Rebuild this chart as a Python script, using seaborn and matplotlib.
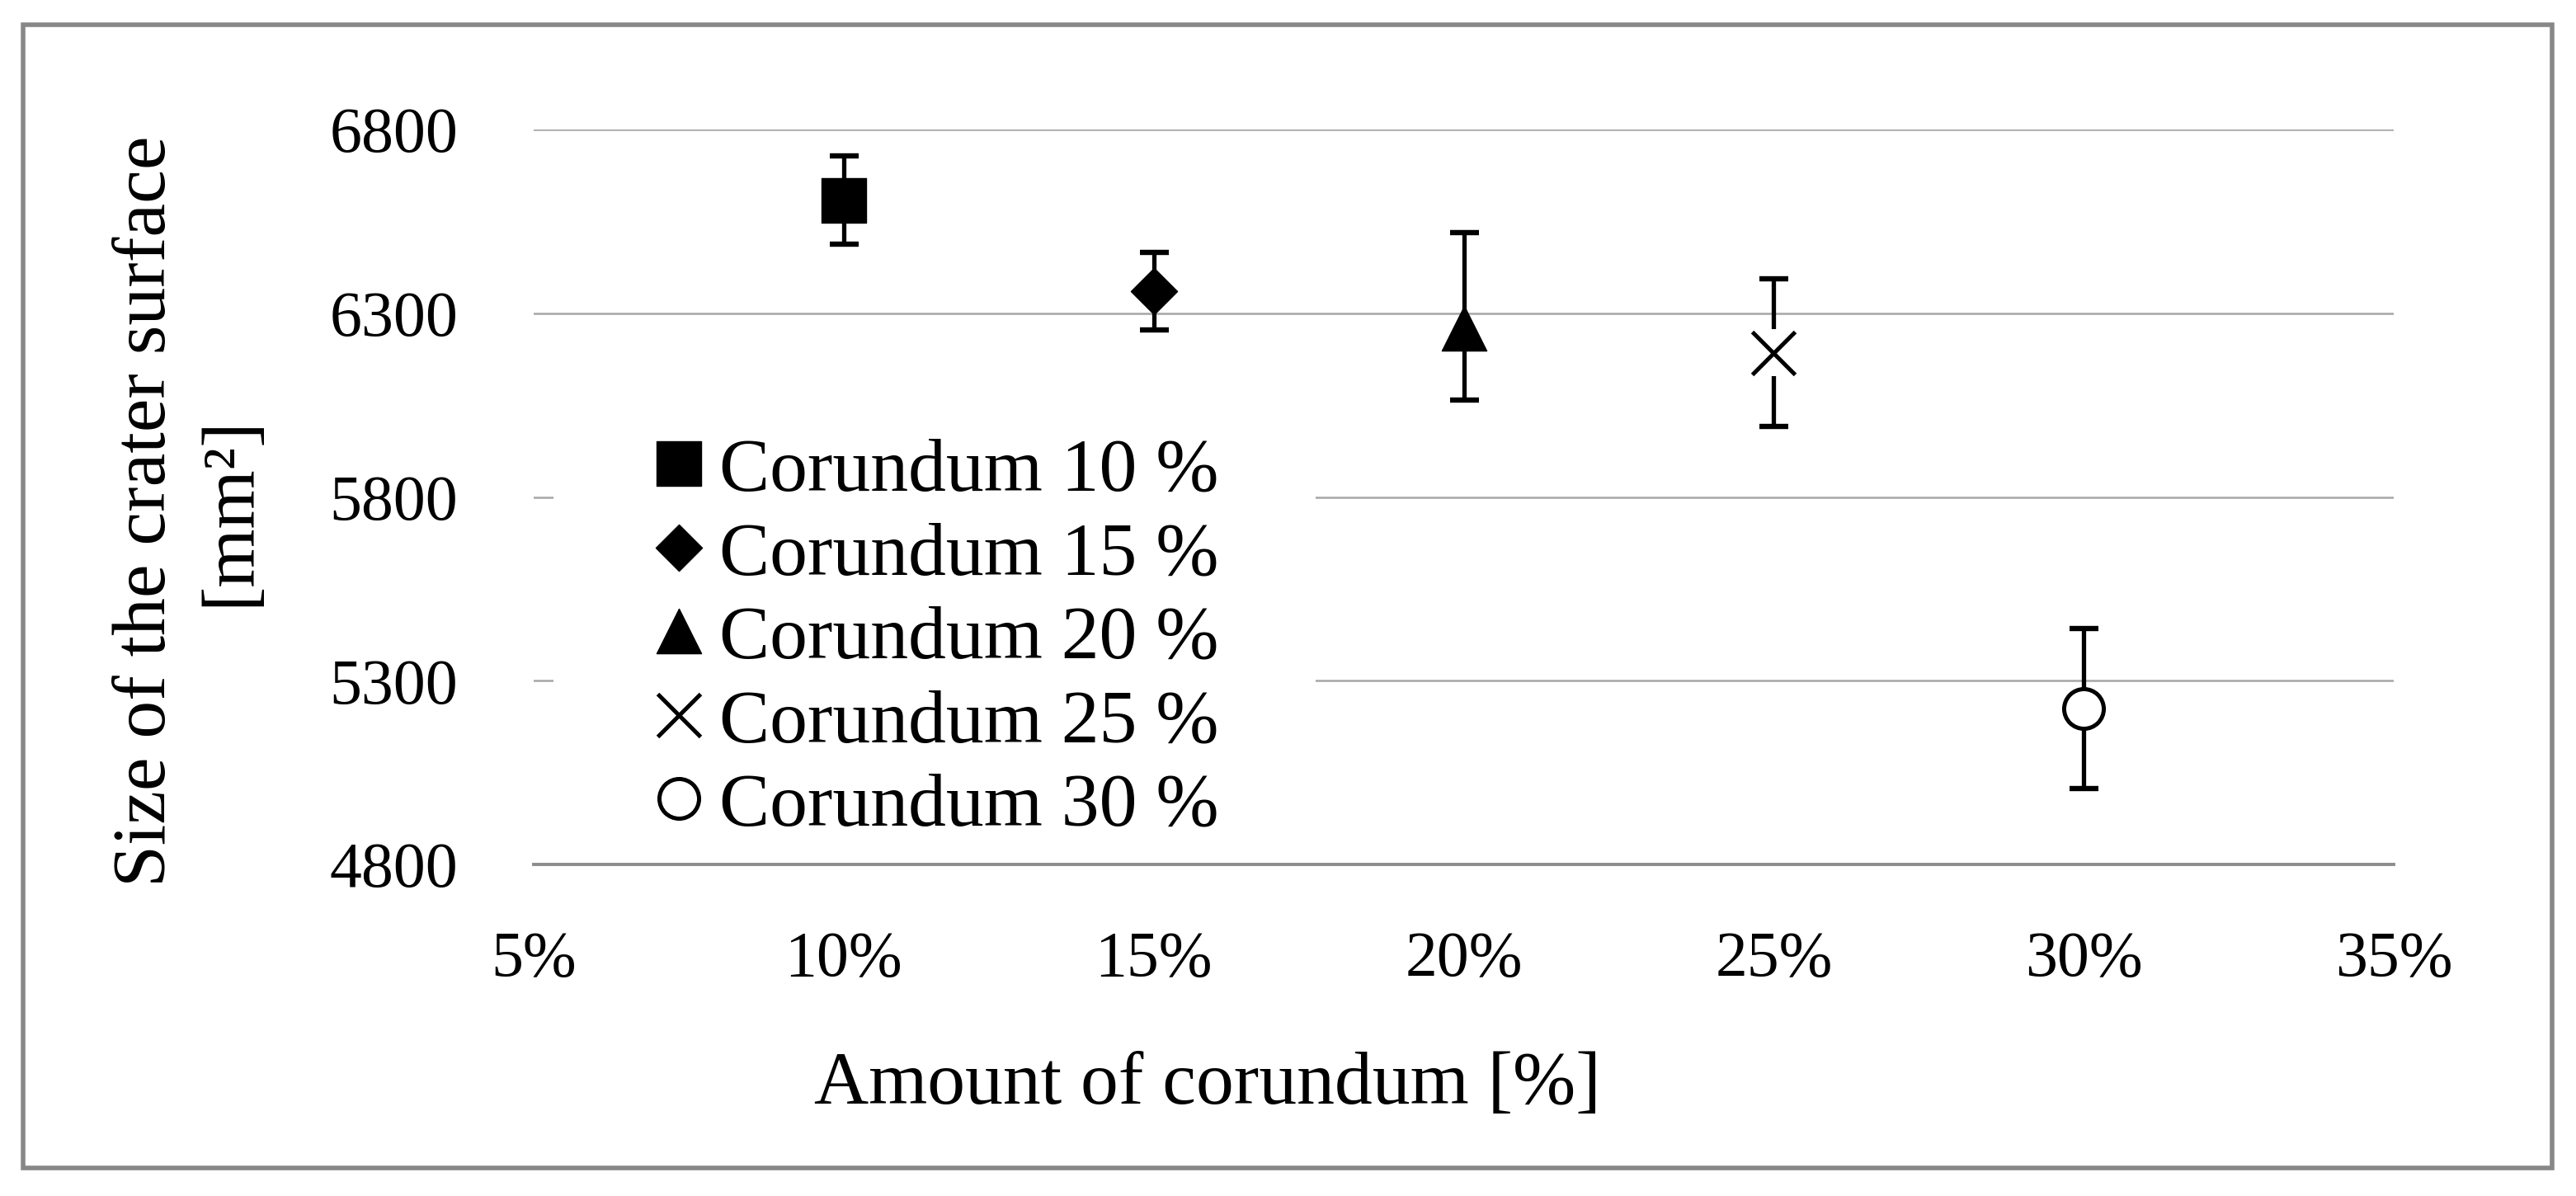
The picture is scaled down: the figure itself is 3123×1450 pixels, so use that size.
import matplotlib.pyplot as plt
import seaborn as sns
import pandas as pd
from matplotlib.patches import Rectangle
from matplotlib.ticker import StrMethodFormatter

# values
amount = [10, 15, 20, 25, 30]
crater = [6608, 6360, 6260, 6192, 5224]
err_low = [120, 105, 197, 201, 218]
err_high = [120, 105, 259, 201, 218]
labels = ['Corundum 10 %', 'Corundum 15 %', 'Corundum 20 %',
          'Corundum 25 %', 'Corundum 30 %']
x_ticks = [5, 10, 15, 20, 25, 30, 35]
y_ticks = [4800, 5300, 5800, 6300, 6800]

df = pd.DataFrame({'amount': amount, 'crater': crater, 'label': labels})

sns.set_style('white')
plt.rcParams['font.family'] = ['Liberation Serif', 'DejaVu Serif']
plt.rcParams['text.color'] = 'black'

W, H = 3123, 1450
fig = plt.figure(figsize=(W / 200, H / 200), dpi=200)
ax = fig.add_axes([647 / W, 1 - 1048 / H, (2902 - 647) / W, (1048 - 157) / H])

# marker, size in pt, face colour, edge width
looks = [('s', 19.5, 'black', 0.5),
         ('D', 14.3, 'black', 0.5),
         ('^', 19.5, 'black', 0.5),
         ('x', 18.7, 'black', 1.8),
         ('o', 17.3, 'white', 1.8)]

ax.errorbar(df['amount'], df['crater'], yerr=[err_low, err_high], fmt='none',
            ecolor='black', elinewidth=1.9, capsize=6.3, capthick=2.3, zorder=2)

for i in range(len(df)):
    one = df.iloc[[i]]
    m, ms, fc, lw = looks[i]
    if m == 'x':
        # excel draws the cross on a white square, which cuts the error bar
        sns.scatterplot(data=one, x='amount', y='crater', marker='s', s=20.5 ** 2,
                        color='white', edgecolor='none', ax=ax, zorder=3, legend=False)
        sns.scatterplot(data=one, x='amount', y='crater', marker='x', s=ms ** 2,
                        color='black', linewidth=lw, ax=ax, zorder=4,
                        label=df['label'][i])
    else:
        sns.scatterplot(data=one, x='amount', y='crater', marker=m, s=ms ** 2,
                        color=fc, edgecolor='black', linewidth=lw, ax=ax, zorder=4,
                        label=df['label'][i])

ax.set_xlim(5, 35)
ax.set_ylim(4800, 6800)
ax.set_xticks(x_ticks)
ax.set_yticks(y_ticks)
ax.xaxis.set_major_formatter(StrMethodFormatter('{x:.0f}%'))
ax.set_xlabel('')
ax.set_ylabel('')

ax.yaxis.grid(True, color='#a6a6a6', linewidth=0.9)
ax.xaxis.grid(False)
for side in ['left', 'top', 'right']:
    ax.spines[side].set_visible(False)
ax.spines['bottom'].set_color('#8c8c8c')
ax.spines['bottom'].set_linewidth(1.4)
ax.tick_params(axis='both', length=0, labelsize=28, colors='black')
ax.tick_params(axis='y', pad=33)
ax.tick_params(axis='x', pad=29)

# white area behind the legend hides the grid lines
ax.add_patch(Rectangle((0.0106, 0.02), 0.41, 0.685, transform=ax.transAxes,
                       facecolor='white', edgecolor='none', zorder=1))
ax.legend(loc='upper left', bbox_to_anchor=(0.0616, 0.581), frameon=False,
          fontsize=33, handlelength=0.8, handletextpad=0.14, labelspacing=0.2,
          borderpad=0, borderaxespad=0, scatterpoints=1, scatteryoffsets=[0.5])

fig.text(229 / W, 1 - 620 / H, 'Size of the crater surface\n[mm²]', rotation=90,
         ha='center', va='center', multialignment='center', fontsize=33,
         linespacing=1.3)
fig.text(1464 / W, 1 - 1338 / H, 'Amount of corundum [%]', ha='center',
         va='baseline', fontsize=33)

# grey frame round the whole chart
fig.add_artist(Rectangle((28 / W, 1 - 1416 / H), (3094 - 28) / W, (1416 - 30) / H,
                         transform=fig.transFigure, fill=False,
                         edgecolor='#878787', linewidth=2.0))

fig.savefig('out.png', dpi=200)
